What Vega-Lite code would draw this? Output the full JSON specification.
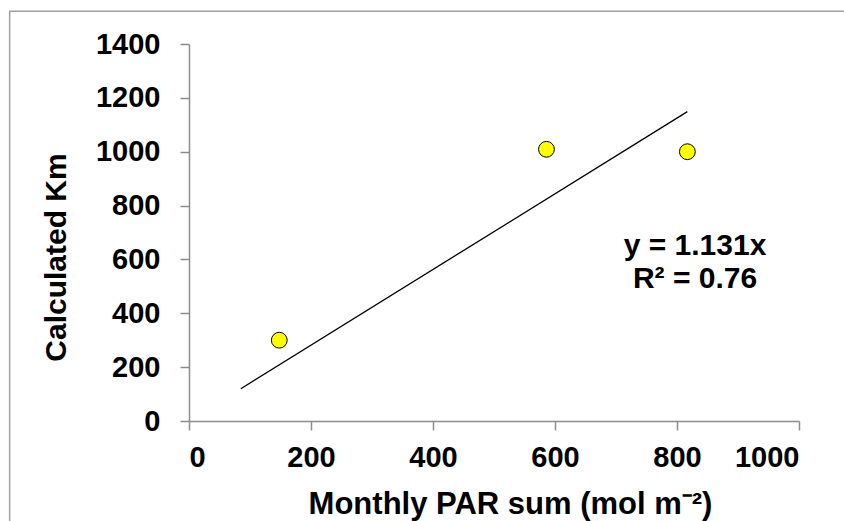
{
  "$schema": "https://vega.github.io/schema/vega-lite/v6.json",
  "width": 610,
  "height": 377,
  "autosize": "none",
  "padding": {"left": 189, "top": 44, "right": 45, "bottom": 100},
  "background": "white",
  "config": {
    "view": {"stroke": null},
    "font": "Liberation Sans"
  },
  "datasets": {
    "points": [
      {"par": 148, "km": 300},
      {"par": 586, "km": 1009},
      {"par": 817, "km": 1000}
    ],
    "trend": [
      {"par": 85, "km": 120},
      {"par": 817, "km": 1149}
    ],
    "annot": [
      {"line1": "y = 1.131x", "line2": "R² = 0.76"}
    ]
  },
  "layer": [
    {
      "data": {"name": "annot"},
      "mark": {"type": "rect", "fill": null, "stroke": "#a0a0a0", "strokeWidth": 1.5, "clip": false},
      "encoding": {
        "x": {"datum": -294, "type": "quantitative", "scale": {"domain": [0, 1000], "nice": false}},
        "x2": {"datum": 1200},
        "y": {"datum": 1522, "type": "quantitative", "scale": {"domain": [0, 1400], "nice": false}},
        "y2": {"datum": -500}
      }
    },
    {
      "data": {"name": "trend"},
      "mark": {"type": "line", "color": "black", "strokeWidth": 1.3},
      "encoding": {
        "x": {"field": "par", "type": "quantitative"},
        "y": {"field": "km", "type": "quantitative"}
      }
    },
    {
      "data": {"name": "points"},
      "mark": {"type": "point", "shape": "circle", "filled": true, "fill": "#ffff00", "stroke": "black", "strokeWidth": 1, "size": 250, "opacity": 1},
      "encoding": {
        "x": {
          "field": "par", "type": "quantitative",
          "scale": {"domain": [0, 1000], "nice": false},
          "axis": {
            "values": [0, 200, 400, 600, 800, 1000],
            "format": "d",
            "grid": false,
            "domainColor": "#8c8c8c", "domainWidth": 1.5,
            "tickColor": "#8c8c8c", "tickWidth": 1.5, "tickSize": 9,
            "labelFont": "Liberation Sans", "labelFontSize": 29, "labelFontWeight": "bold", "labelColor": "black",
            "labelPadding": 13,
            "title": "Monthly PAR sum (mol m⁻²)",
            "titleFont": "Liberation Sans", "titleFontSize": 31, "titleFontWeight": "bold", "titleColor": "black",
            "titleX": 321, "titleY": 92, "titleBaseline": "alphabetic", "titleAlign": "center"
          }
        },
        "y": {
          "field": "km", "type": "quantitative",
          "scale": {"domain": [0, 1400], "nice": false},
          "axis": {
            "values": [0, 200, 400, 600, 800, 1000, 1200, 1400],
            "format": "d",
            "grid": false,
            "domainColor": "#8c8c8c", "domainWidth": 1.5,
            "tickColor": "#8c8c8c", "tickWidth": 1.5, "tickSize": 9,
            "labelFont": "Liberation Sans", "labelFontSize": 29, "labelFontWeight": "bold", "labelColor": "black",
            "labelPadding": 20,
            "title": "Calculated Km",
            "titleFont": "Liberation Sans", "titleFontSize": 30, "titleFontWeight": "bold", "titleColor": "black",
            "titleAngle": -90, "titleX": -124, "titleY": 213, "titleBaseline": "alphabetic", "titleAlign": "center"
          }
        }
      }
    },
    {
      "data": {"name": "annot"},
      "mark": {"type": "text", "font": "Liberation Sans", "fontSize": 30, "fontWeight": "bold", "color": "black", "align": "center", "baseline": "alphabetic"},
      "encoding": {
        "x": {"datum": 829.5, "type": "quantitative"},
        "y": {"datum": 616.4, "type": "quantitative"},
        "text": {"field": "line1"}
      }
    },
    {
      "data": {"name": "annot"},
      "mark": {"type": "text", "font": "Liberation Sans", "fontSize": 30, "fontWeight": "bold", "color": "black", "align": "center", "baseline": "alphabetic"},
      "encoding": {
        "x": {"datum": 829.5, "type": "quantitative"},
        "y": {"datum": 493.8, "type": "quantitative"},
        "text": {"field": "line2"}
      }
    }
  ]
}
